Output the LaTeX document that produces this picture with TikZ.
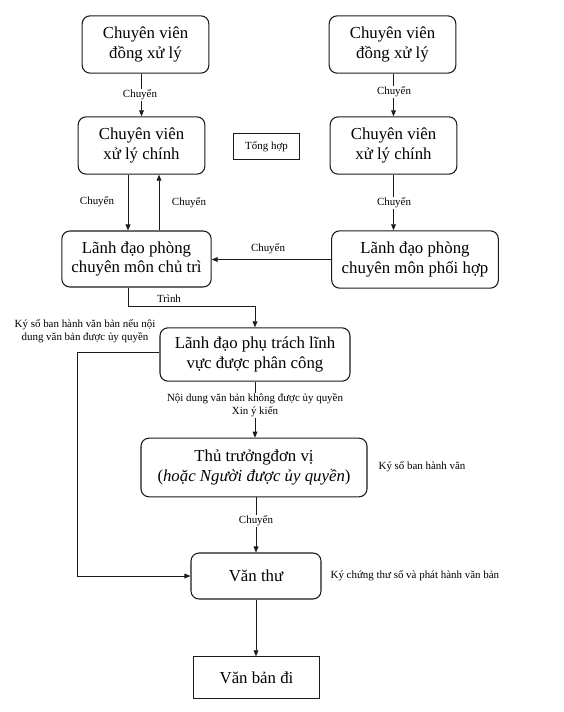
\documentclass[tikz,border=0pt]{standalone}
\usepackage{fontspec}
\setmainfont{Liberation Serif}
\usepackage{tikz}
\usepackage{xcolor}
\usetikzlibrary{arrows.meta,positioning,calc}
\definecolor{ink}{HTML}{1A1A1A}
\tikzset{
  roundbox/.style={draw=ink,fill=white,line width=0.8pt,rounded corners=6pt,
                   align=center,font=\fontsize{12.6}{14.8}\selectfont,inner sep=2pt},
  plainbox/.style={draw=ink,fill=white,line width=0.8pt,
                   align=center,font=\fontsize{12.6}{14.8}\selectfont,inner sep=2pt},
  steplabel/.style={font=\fontsize{8.2}{9.6}\selectfont,inner sep=1pt,align=center},
  gaplabel/.style={steplabel,fill=white},
  flowarr/.style={-{Triangle[length=4.5pt,width=3.6pt]},line width=0.55pt,color=ink}
}

\begin{document}
\begin{tikzpicture}[x=0.75pt,y=-0.75pt]
  \useasboundingbox (0,0) rectangle (563,712);
  % boxes
  \node[roundbox,minimum width=95pt,minimum height=43pt] (dongL) at (145.5,44.5) {Chuyên viên\\đồng xử lý};
  \node[roundbox,minimum width=95pt,minimum height=43pt] (dongR) at (392.5,44.5) {Chuyên viên\\đồng xử lý};
  \node[roundbox,minimum width=95pt,minimum height=43pt] (chinhL) at (141.5,145.5) {Chuyên viên\\xử lý chính};
  \node[roundbox,minimum width=95pt,minimum height=43pt] (chinhR) at (393.5,145.5) {Chuyên viên\\xử lý chính};
  \node[plainbox,line width=0.6pt,minimum width=49pt,minimum height=19pt,
        font=\fontsize{8.2}{9.6}\selectfont] (tonghop) at (266.5,146.5) {Tổng hợp};
  \node[roundbox,minimum width=112pt,minimum height=42pt] (chutri) at (136.5,259) {Lãnh đạo phòng\\chuyên môn chủ trì};
  \node[roundbox,minimum width=125pt,minimum height=43pt] (phoihop) at (415,259.5) {Lãnh đạo phòng\\chuyên môn phối hợp};
  \node[roundbox,minimum width=142.5pt,minimum height=40pt] (phutrach) at (255,354.5) {Lãnh đạo phụ trách lĩnh\\vực được phân công};
  \node[roundbox,minimum width=169.5pt,minimum height=44pt] (thutruong) at (254,467.5) {Thủ trưởngđơn vị\\(\textit{hoặc Người được ủy quyền})};
  \node[roundbox,minimum width=97.5pt,minimum height=34.5pt] (vanthu) at (256,576) {Văn thư};
  \node[plainbox,minimum width=95pt,minimum height=31pt] (vanban) at (256.5,677.5) {Văn bản đi};

  % connectors
  \draw[flowarr] (dongL.south -| chinhL) -- (chinhL.north);
  \node[gaplabel] (l1) at (140,95) {Chuyển};
  \draw[flowarr] (dongR.south -| chinhR) -- (chinhR.north);
  \node[gaplabel] (l2) at (394,92) {Chuyển};

  \coordinate (dn) at (128,0);
  \coordinate (up) at (159,0);
  \draw[flowarr] (chinhL.south -| dn) -- (chutri.north -| dn);
  \draw[flowarr] (chutri.north -| up) -- (chinhL.south -| up);
  \node[steplabel] (l3) at (97,202) {Chuyển};
  \node[steplabel] (l4) at (189,203) {Chuyển};
  \draw[flowarr] (chinhR.south) -- (phoihop.north -| chinhR);
  \node[gaplabel] (l5) at (394,203) {Chuyển};

  \draw[flowarr] (phoihop.west) -- (phoihop.west -| chutri.east);
  \node[steplabel] (l6) at (268,249) {Chuyển};

  \coordinate (trn) at (128,306);
  \draw[flowarr] (chutri.south -| trn) -- (trn) -| (phutrach.north);
  \node[steplabel] (l7) at (169,299) {Trình};

  \coordinate (lft) at (77,352);
  \draw[flowarr] (lft -| phutrach.west) -- (lft) |- (vanthu.west);
  \node[steplabel] (l8) at (85,331) {Ký số ban hành văn bản nếu nội\\dung văn bản được ủy quyền};

  \draw[flowarr] (phutrach.south) -- (thutruong.north -| phutrach.south);
  \node[gaplabel] (l9) at (255,405.5) {Nội dung văn bản không được ủy quyền\\Xin ý kiến};
  \node[steplabel,anchor=west] (l10) at (377,467) {Ký số ban hành văn};

  \draw[flowarr] (thutruong.south -| vanthu.north) -- (vanthu.north);
  \node[gaplabel] (l11) at (256,521) {Chuyển};
  \node[steplabel,anchor=west] (l12) at (329,576) {Ký chứng thư số và phát hành văn bản};

  \draw[flowarr] (vanthu.south) -- (vanthu.south |- vanban.north);
\end{tikzpicture}
\end{document}
